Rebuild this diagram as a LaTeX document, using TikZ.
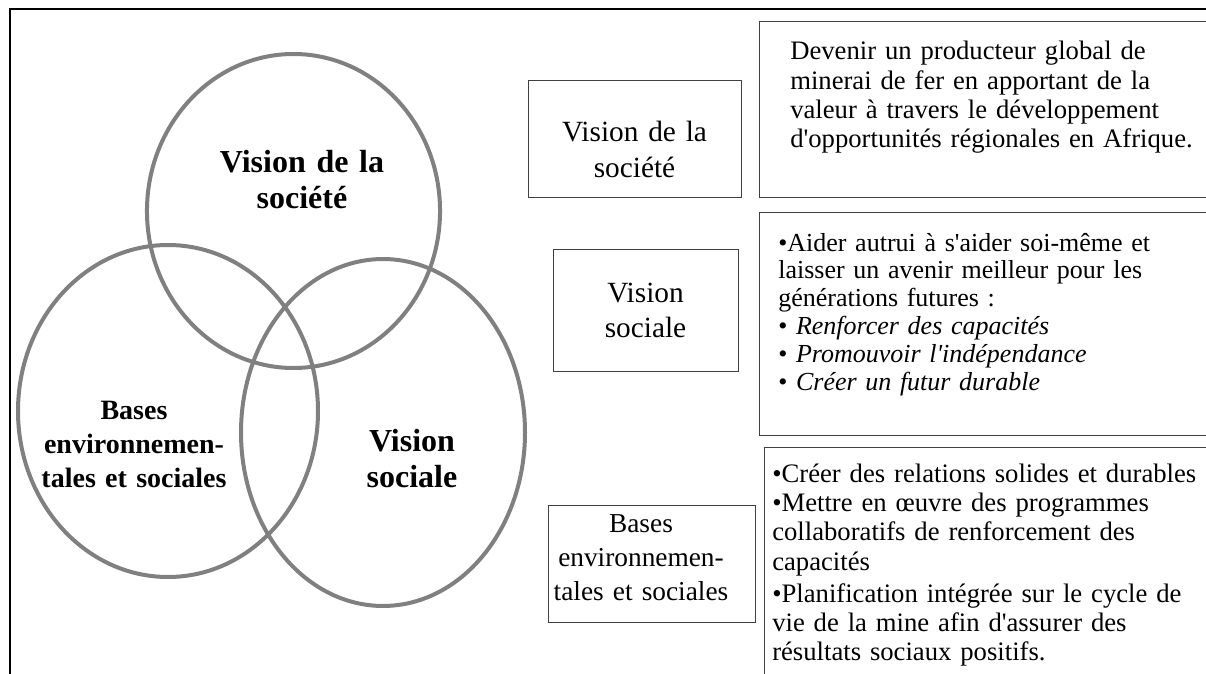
\documentclass[tikz,border=0pt]{standalone}
\usepackage{fontspec}
\setmainfont{Liberation Serif}[Ligatures=TeXOff]

\begin{document}
\begin{tikzpicture}[x=0.75pt, y=-0.75pt,
    ring/.style={draw=gray, line width=3pt},
    boxline/.style={draw=black!75, line width=0.75pt},
    venntxt/.style={font=\fontsize{24}{27}\selectfont\bfseries, align=center, text width=170pt, anchor=base, inner sep=0pt},
    boxtxt/.style={font=\fontsize{22}{26.5}\selectfont, align=center, text width=150pt, anchor=base, inner sep=0pt},
    desctxt/.style={font=\fontsize{20}{22}\selectfont, align=left, text width=330pt, anchor=base west, inner sep=0pt}]

\clip (0,0) rectangle (1206,674);

% outer frame
\draw[line width=1.5pt] (10,700) -- (10,9) -- (1230,9);

% venn diagram
\draw[ring] (293.5,211) ellipse [x radius=109.9pt, y radius=117.75pt];
\draw[ring] (168,411) ellipse [x radius=112.5pt, y radius=124.5pt];
\draw[ring] (383,432.5) ellipse [x radius=106.5pt, y radius=130.1pt];

\node[venntxt] (vSociete) at (302,172) {Vision de la\\société};
\node[venntxt, font=\fontsize{21}{25.5}\selectfont\bfseries] (vBases) at (134,419) {Bases\\environnemen-\\tales et sociales};
\node[venntxt] (vSociale) at (412,451) {Vision\\sociale};

% middle column
\draw[boxline] (528,81) rectangle (741,197);
\node[boxtxt] (lSociete) at (634.5,142) {Vision de la\\société};

\draw[boxline] (553,249) rectangle (738,371);
\node[boxtxt] (lSociale) at (645.5,302) {Vision\\sociale};

\draw[boxline] (548,505) rectangle (755,622);
\node[boxtxt, font=\fontsize{20.5}{25.5}\selectfont] (lBases) at (641,532) {Bases\\environnemen-\\tales et sociales};

% right column
\draw[boxline] (759,22) rectangle (1230,197);
\node[desctxt] (dSociete) at (790,60) {Devenir un producteur global de\\
minerai de fer en apportant de la\\
valeur à travers le développement\\
d'opportunités régionales en Afrique.};

\draw[boxline] (759,212) rectangle (1230,435);
\node[desctxt, font=\fontsize{19.5}{20.85}\selectfont] (dSociale) at (778,251) {•Aider autrui à s'aider soi-même et\\
laisser un avenir meilleur pour les\\
générations futures :\\
• \textit{Renforcer des capacités}\\
• \textit{Promouvoir l'indépendance}\\
• \textit{Créer un futur durable}};

\draw[boxline] (764,447) rectangle (1230,700);
\node[desctxt, font=\fontsize{20}{22}\selectfont] (dBases) at (772,482) {•Créer des relations solides et durables\\
•Mettre en œuvre des programmes\\
collaboratifs de renforcement des\\
capacités\\[2pt]
•Planification intégrée sur le cycle de\\
vie de la mine afin d'assurer des\\
résultats sociaux positifs.};

\end{tikzpicture}
\end{document}
